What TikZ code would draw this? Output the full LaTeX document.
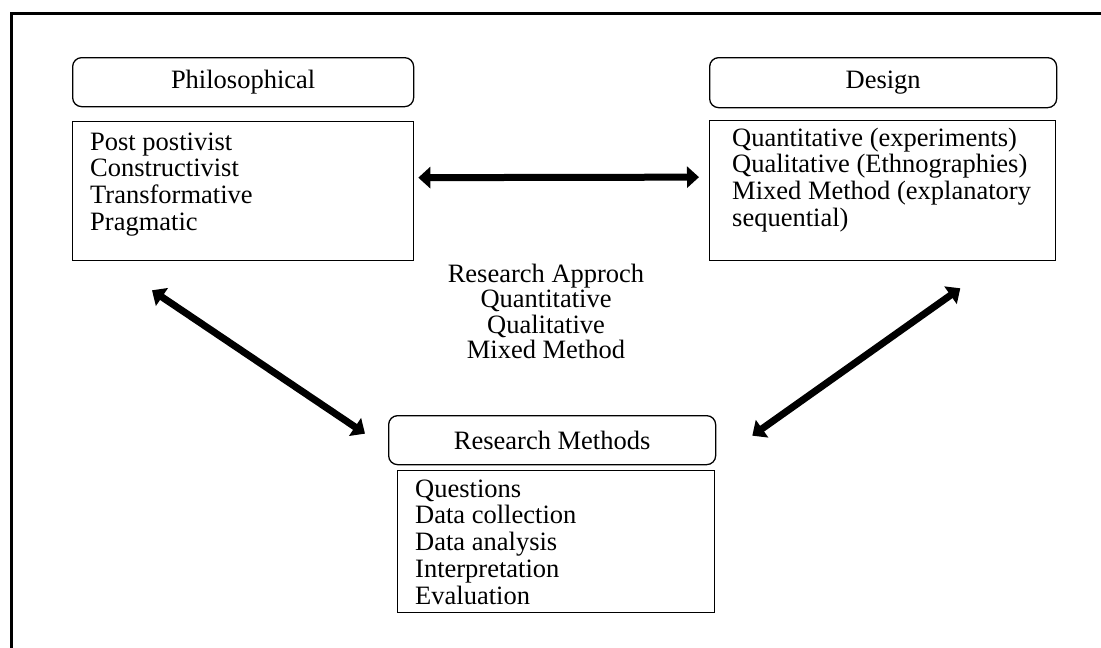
\documentclass[tikz,border=0pt]{standalone}
\usepackage{fontspec}
\setmainfont{Liberation Serif}
\usetikzlibrary{arrows.meta,calc}
\tikzset{
  txt/.style={font=\fontsize{26.5}{26.7}\selectfont},
  headbox/.style={draw, line width=1.3pt, rounded corners=9pt, minimum width=#1,
    minimum height=49pt, inner sep=0pt, txt, anchor=north west},
  listbox/.style={draw, line width=1.3pt, inner sep=0pt, anchor=north west},
  listtext/.style={txt, align=left, inner sep=0pt, anchor=north west},
  bigarrow/.style={line width=7pt,
    {Triangle[length=12pt,width=21pt]}-{Triangle[length=12pt,width=21pt]}},
}
\begin{document}
\begin{tikzpicture}[x=1pt,y=-1pt]
\useasboundingbox (0,0) rectangle (1101,648);

% frame
\draw[line width=3pt] (11,648) -- (11,13.5) -- (1101,13.5);

% Philosophical
\node[headbox=341pt] (philhead) at (72,57) {Philosophical};
\node[listbox, minimum width=341pt, minimum height=139pt] (philbox) at (72,121) {};
\node[listtext] (philtext) at ($(philbox.north west)+(18,11.5)$)
  {Post postivist\\Constructivist\\Transformative\\Pragmatic};

% Design
\node[headbox=347pt, minimum height=50pt] (designhead) at (709,57) {Design};
\node[listbox, minimum width=346pt, minimum height=140pt] (designbox) at (709,120) {};
\node[listtext] (designtext) at ($(designbox.north west)+(23,7.5)$)
  {Quantitative (experiments)\\Qualitative (Ethnographies)\\Mixed Method (explanatory\\sequential)};

% Research approach
\node[txt, font=\fontsize{26.5}{25.5}\selectfont, align=center, inner sep=0pt, anchor=north]
  (approach) at (546,263.6)
  {Research Approch\\Quantitative\\Qualitative\\Mixed Method};

% Research methods
\node[headbox=327pt] (rmhead) at (388,415) {Research Methods};
\node[listbox, minimum width=317pt, minimum height=142pt] (rmbox) at (397,470) {};
\node[listtext] (rmtext) at ($(rmbox.north west)+(18,9.5)$)
  {Questions\\Data collection\\Data analysis\\Interpretation\\Evaluation};

% connectors
\draw[bigarrow] ($(philbox.east)+(4,-13.5)$) -- ($(designbox.west)+(-10,-13.5)$);
\draw[bigarrow] ($(philbox.south west)+(80,29)$) -- ($(rmhead.west)+(-23,-6.5)$);
\draw[bigarrow] ($(designbox.south east)+(-96,27)$) -- ($(rmhead.east)+(36,-4.5)$);
\end{tikzpicture}
\end{document}
